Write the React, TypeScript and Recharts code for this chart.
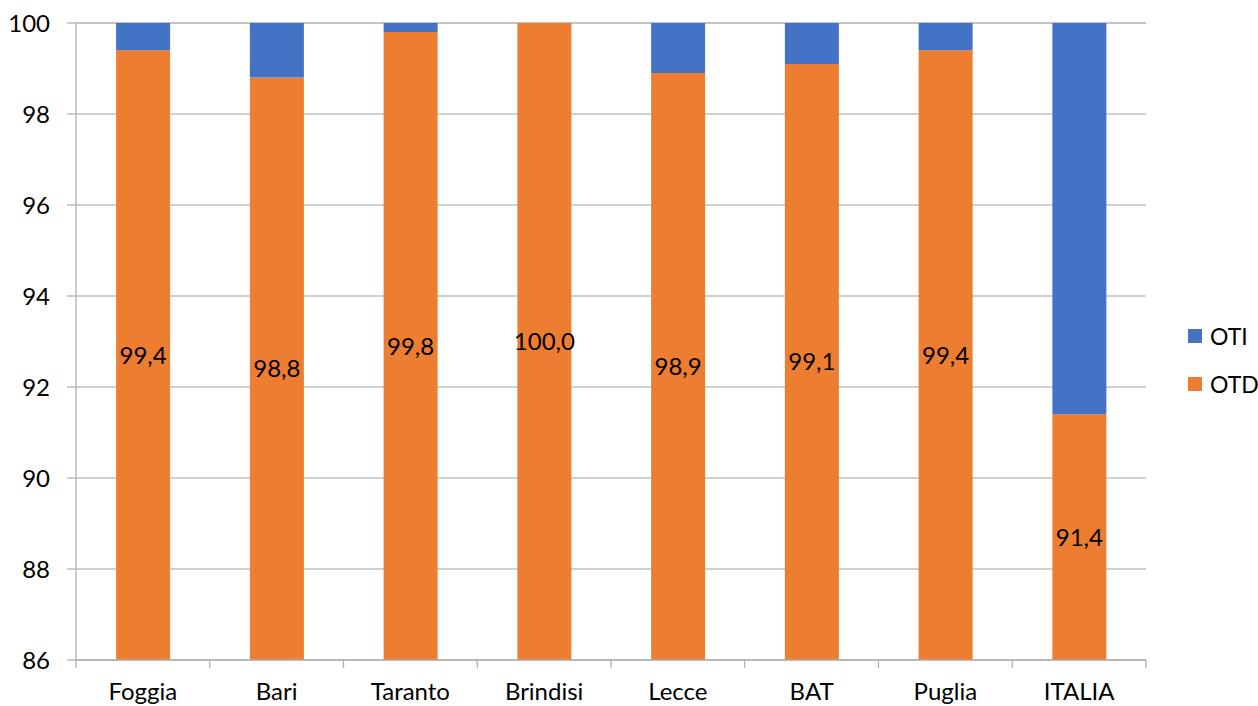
import React from "react";
import { BarChart, Bar, XAxis, YAxis, CartesianGrid, Legend, LabelList } from "recharts";

// OTD / OTI share per provincia
const categories = ["Foggia", "Bari", "Taranto", "Brindisi", "Lecce", "BAT", "Puglia", "ITALIA"];
const otdValues = [99.4, 98.8, 99.8, 100.0, 98.9, 99.1, 99.4, 91.4];
const otiValues = [0.6, 1.2, 0.2, 0.0, 1.1, 0.9, 0.6, 8.6];
const yTicks = [86, 88, 90, 92, 94, 96, 98, 100];

const BASE = 86; // axis starts here, bars are drawn from this baseline

const BLUE = "#4472C4";
const ORANGE = "#ED7D31";
const AXIS = "#b0b0b0";
const FONT = "Lato, 'Noto Sans', sans-serif";
const X_TICK_SIZE = 8;
const X_TICK_MARGIN = 15;

const data = categories.map((name, i) => ({
  name,
  otd: otdValues[i] - BASE,
  oti: otiValues[i],
  otdLabel: otdValues[i].toFixed(1).replace(".", ","),
}));

// category label + excel-style tick marks on the category boundaries
const CategoryTick = (props: any) => {
  const { x, y, payload, index } = props;
  const half = payload?.offset ?? 0;
  const axisY = y - X_TICK_MARGIN - X_TICK_SIZE;
  const isLast = index === categories.length - 1;
  return (
    <g>
      <line x1={x - half} x2={x - half} y1={axisY} y2={axisY + X_TICK_SIZE} stroke={AXIS} strokeWidth={1.3} />
      {isLast && (
        <line x1={x + half} x2={x + half} y1={axisY} y2={axisY + X_TICK_SIZE} stroke={AXIS} strokeWidth={1.3} />
      )}
      <text x={x} y={y} dy="0.71em" textAnchor="middle" fill="#000" fontSize={24} fontFamily={FONT}>
        {payload.value}
      </text>
    </g>
  );
};

const legendItems = [
  { label: "OTI", color: BLUE },
  { label: "OTD", color: ORANGE },
];

// legend is absolutely placed so it doesn't eat plot space
const LegendBox = () => (
  <div style={{ position: "absolute", left: 0, top: 0, fontFamily: FONT, fontSize: 23, color: "#000", width: 70 }}>
    {legendItems.map((it) => (
      <div key={it.label} style={{ display: "flex", alignItems: "center", height: 48 }}>
        <span style={{ width: 14, height: 14, background: it.color, marginRight: 8, display: "inline-block", flexShrink: 0 }} />
        <span>{it.label}</span>
      </div>
    ))}
  </div>
);

const App: React.FC = () => {
  return (
    <div style={{ position: "absolute", left: 0, top: 0, background: "#fff" }}>
      <BarChart
        width={1258}
        height={706}
        data={data}
        margin={{ top: 23, right: 112, left: 0, bottom: 0 }}
        barCategoryGap="30%"
      >
        <CartesianGrid vertical={false} stroke="#c0c0c0" strokeWidth={1.3} />
        <XAxis
          dataKey="name"
          height={46}
          stroke={AXIS}
          strokeWidth={1.3}
          tickLine={false}
          tickSize={X_TICK_SIZE}
          tickMargin={X_TICK_MARGIN}
          tick={<CategoryTick />}
          interval={0}
        />
        <YAxis
          width={76}
          type="number"
          domain={[0, 100 - BASE]}
          ticks={yTicks.map((t) => t - BASE)}
          tickFormatter={(v: number) => String(v + BASE)}
          stroke={AXIS}
          strokeWidth={1.3}
          tickSize={9}
          tickMargin={17}
          tick={{ fill: "#000", fontSize: 24, fontFamily: FONT }}
        />
        <Legend
          content={<LegendBox />}
          wrapperStyle={{ left: 1188, top: 312, width: 0, height: 0, overflow: "visible" }}
        />
        <Bar dataKey="otd" name="OTD" stackId="a" fill={ORANGE} isAnimationActive={false}>
          <LabelList
            dataKey="otdLabel"
            position="center"
            style={{ fill: "#000", fontSize: 24, fontFamily: FONT }}
          />
        </Bar>
        <Bar dataKey="oti" name="OTI" stackId="a" fill={BLUE} isAnimationActive={false} />
      </BarChart>
    </div>
  );
};

export default App;
